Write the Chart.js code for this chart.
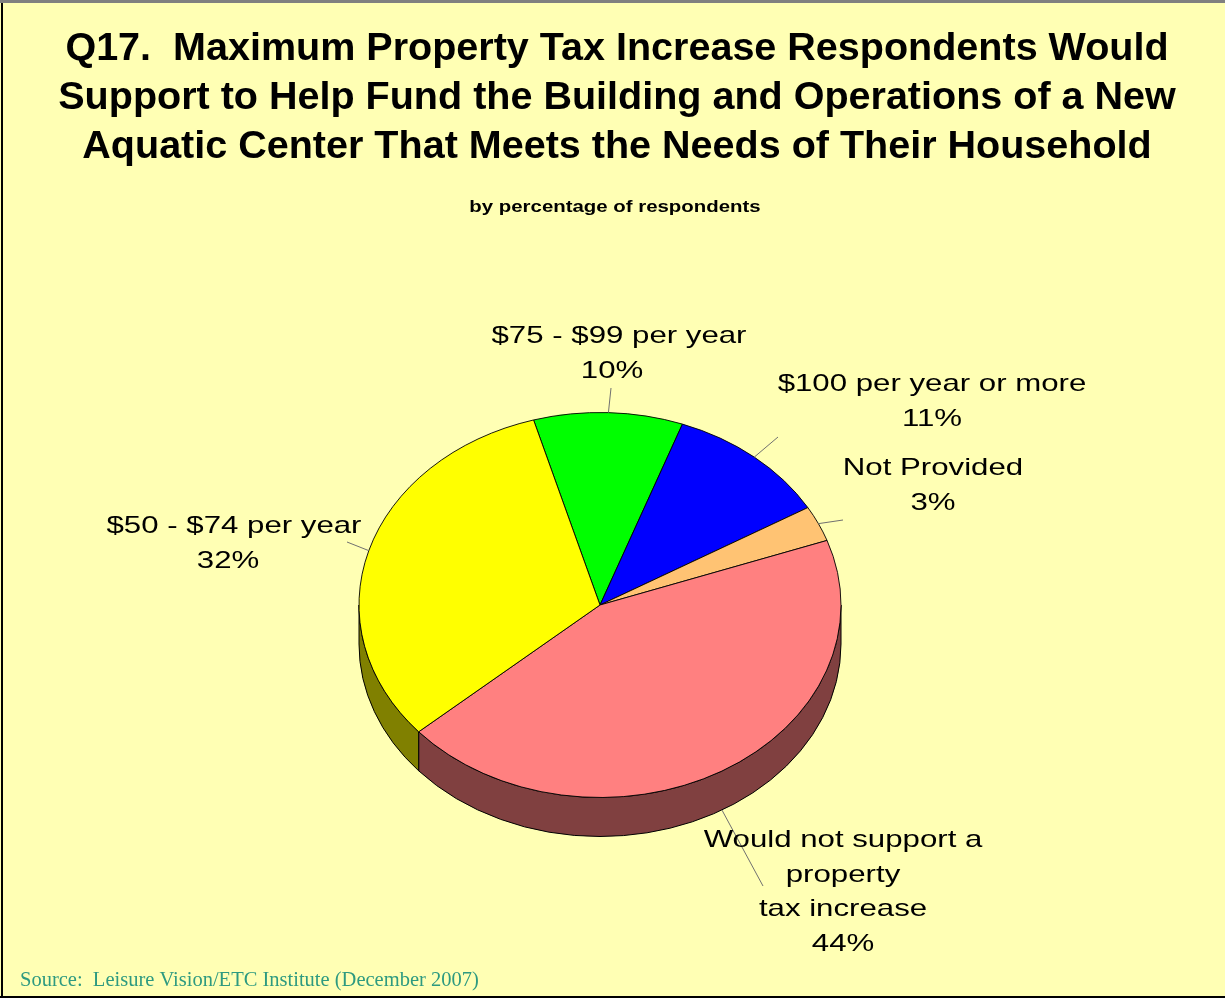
<!DOCTYPE html>
<html>
<head>
<meta charset="utf-8">
<title>Q17 Property Tax Increase</title>
<script src="https://cdn.jsdelivr.net/npm/chart.js@4/dist/chart.umd.min.js"></script>
<style>
  html, body { margin: 0; padding: 0; background: #FFFFB4; overflow: hidden; }
  canvas { display: block; }
</style>
</head>
<body>
<canvas id="chart" width="1225" height="998"></canvas>
<script>
// ---- data ----
const categories = [
  '$75 - $99 per year',
  '$100 per year or more',
  'Not Provided',
  'Would not support a property tax increase',
  '$50 - $74 per year'
];
const values = [10, 11, 3, 44, 32];
const labelLines = [
  ['$75 - $99 per year'],
  ['$100 per year or more'],
  ['Not Provided'],
  ['Would not support a', 'property', 'tax increase'],
  ['$50 - $74 per year']
];
const titleLines = [
  'Q17.  Maximum Property Tax Increase Respondents Would',
  'Support to Help Fund the Building and Operations of a New',
  'Aquatic Center That Meets the Needs of Their Household'
];
const subtitleText = 'by percentage of respondents';
const sourceText = 'Source:  Leisure Vision/ETC Institute (December 2007)';

// ---- styling ----
const sliceColors = ['#00FF00', '#0000FF', '#FFC373', '#FF8080', '#FFFF00'];
const sideColors  = ['#008000', '#000080', '#806139', '#804040', '#808000'];
const BG = '#FFFFB4';
const TILT = 192.5 / 241;   // vertical squash of the pie's top face
const DEPTH = 39;           // thickness of the pie edge
// label block: centre x, first baseline, outer end of leader line, nudge of the percent line
const labelLayout = [
  { x: 619, y: 343, lead: [611, 388], pctDx: -7 },
  { x: 932, y: 391, lead: [778, 437], pctDx: 0 },
  { x: 933, y: 475, lead: [843, 520], pctDx: 0 },
  { x: 843, y: 847, lead: [763, 886], pctDx: 0 },
  { x: 234, y: 533, lead: [347, 542], pctDx: -6 }
];
const LINE_GAP = 34.5;

function stretchedText(ctx, text, x, y, font, sx, align) {
  ctx.save();
  ctx.translate(x, y);
  ctx.scale(sx, 1);
  ctx.font = font;
  ctx.textAlign = align || 'center';
  ctx.textBaseline = 'alphabetic';
  ctx.fillText(text, 0, 0);
  ctx.restore();
}

// background, frame and headings
const framePlugin = {
  id: 'frame',
  beforeDraw(chart) {
    const ctx = chart.ctx;
    ctx.save();
    ctx.fillStyle = BG;
    ctx.fillRect(0, 0, chart.width, chart.height);
    ctx.fillStyle = '#808080';
    ctx.fillRect(0, 0, chart.width, 3);
    ctx.fillStyle = '#000000';
    ctx.fillRect(1, 3, 2, chart.height - 3);
    ctx.fillRect(0, chart.height - 2, chart.width, 2);

    ctx.fillStyle = '#000000';
    titleLines.forEach((t, i) => {
      stretchedText(ctx, t, 617, 60 + i * 49, 'bold 38px "Liberation Sans", Arial, sans-serif', 1.04);
    });
    stretchedText(ctx, subtitleText, 615, 212, 'bold 17px "Liberation Sans", Arial, sans-serif', 1.2);

    ctx.fillStyle = '#2E9A80';
    stretchedText(ctx, sourceText, 20, 986, '20.5px "Liberation Serif", "Times New Roman", serif', 1, 'left');
    ctx.restore();
  }
};

// draws the pie edge and squashes the slices into an ellipse
const tiltPlugin = {
  id: 'tilt',
  beforeDatasetsDraw(chart) {
    const ctx = chart.ctx;
    const arcs = chart.getDatasetMeta(0).data;
    if (!arcs.length) return;
    const cx = arcs[0].x, cy = arcs[0].y, r = arcs[0].outerRadius;
    const ry = r * TILT;
    ctx.save();
    ctx.lineWidth = 1;
    ctx.strokeStyle = '#000000';
    arcs.forEach((arc, i) => {
      const s = arc.startAngle, e = arc.endAngle;
      for (let k = -1; k <= 1; k++) {
        const a0 = Math.max(s, 2 * Math.PI * k);
        const a1 = Math.min(e, 2 * Math.PI * k + Math.PI);
        if (a1 <= a0) continue;
        ctx.beginPath();
        ctx.ellipse(cx, cy + DEPTH, r, ry, 0, a0, a1, false);
        ctx.lineTo(cx + r * Math.cos(a1), cy + ry * Math.sin(a1));
        ctx.ellipse(cx, cy, r, ry, 0, a1, a0, true);
        ctx.closePath();
        ctx.fillStyle = sideColors[i];
        ctx.fill();
        ctx.stroke();
      }
    });
    ctx.restore();
    ctx.save();
    ctx.translate(cx, cy);
    ctx.scale(1, TILT);
    ctx.translate(-cx, -cy);
  },
  afterDatasetsDraw(chart) {
    chart.ctx.restore();
  }
};

// category labels with leader lines
const labelPlugin = {
  id: 'sliceLabels',
  afterDraw(chart) {
    const ctx = chart.ctx;
    const arcs = chart.getDatasetMeta(0).data;
    ctx.save();
    arcs.forEach((arc, i) => {
      const cx = arc.x, cy = arc.y, r = arc.outerRadius, ry = r * TILT;
      const m = (arc.startAngle + arc.endAngle) / 2;
      const px = cx + r * Math.cos(m);
      const py = cy + ry * Math.sin(m) + (Math.sin(m) > 0 ? DEPTH : 0);
      const L = labelLayout[i];
      ctx.strokeStyle = '#707070';
      ctx.lineWidth = 1;
      ctx.beginPath();
      ctx.moveTo(px, py);
      ctx.lineTo(L.lead[0], L.lead[1]);
      ctx.stroke();

      ctx.fillStyle = '#000000';
      const lines = labelLines[i];
      lines.forEach((t, j) => {
        stretchedText(ctx, t, L.x, L.y + j * LINE_GAP, '24px "Liberation Sans", Arial, sans-serif', 1.3);
      });
      stretchedText(ctx, values[i] + '%', L.x + L.pctDx, L.y + lines.length * LINE_GAP,
        '24px "Liberation Sans", Arial, sans-serif', 1.3);
    });
    ctx.restore();
  }
};

new Chart(document.getElementById('chart'), {
  type: 'pie',
  data: {
    labels: categories,
    datasets: [{
      data: values,
      backgroundColor: sliceColors,
      borderColor: '#000000',
      borderWidth: 1
    }]
  },
  options: {
    responsive: false,
    devicePixelRatio: 1,
    animation: false,
    events: [],
    rotation: -16,
    radius: 241,
    layout: { padding: { left: 0, right: 25, top: 212, bottom: 0 } },
    plugins: {
      legend: { display: false },
      title: { display: false },
      tooltip: { enabled: false }
    }
  },
  plugins: [framePlugin, tiltPlugin, labelPlugin]
});
</script>
</body>
</html>
